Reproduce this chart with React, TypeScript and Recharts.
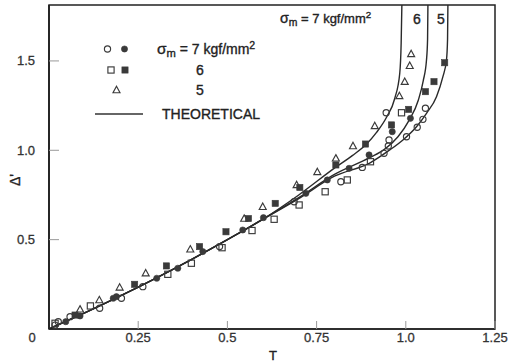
import React from 'react';
import { ComposedChart, XAxis, YAxis, Line, Scatter, ReferenceArea } from 'recharts';

// ---- axis ticks ----
const xTicks = [0.25, 0.5, 0.75, 1.0, 1.25];
const xTickLabels = ['0.25', '0.5', '0.75', '1.0', '1.25'];
const yTicks = [0, 0.5, 1.0, 1.5];
const yTickLabels = ['0', '0.5', '1.0', '1.5'];
const X_MAX = 1.25;
const Y_MAX = 1.813;

// ---- theoretical curves [T, Δ'] ----
const curve7: [number, number][] = [
  [0, 0], [0.05, 0.045], [0.1, 0.09], [0.2, 0.185], [0.3, 0.285], [0.4, 0.39], [0.5, 0.5], [0.6, 0.615],
  [0.7, 0.75], [0.8, 0.9], [0.85, 0.97], [0.89, 1.035], [0.918, 1.1], [0.946, 1.185], [0.969, 1.29],
  [0.983, 1.43], [0.987, 1.6], [0.989, 1.813],
];
const curve6: [number, number][] = [
  [0, 0], [0.05, 0.045], [0.1, 0.09], [0.2, 0.185], [0.3, 0.285], [0.4, 0.39], [0.5, 0.5], [0.6, 0.615],
  [0.7, 0.735], [0.8, 0.865], [0.9, 0.96], [0.94, 1.005], [0.978, 1.076], [1.01, 1.17], [1.035, 1.28],
  [1.049, 1.39], [1.058, 1.505], [1.061, 1.62], [1.062, 1.813],
];
const curve5: [number, number][] = [
  [0, 0], [0.05, 0.045], [0.1, 0.09], [0.2, 0.185], [0.3, 0.285], [0.4, 0.39], [0.5, 0.5], [0.6, 0.615],
  [0.7, 0.73], [0.8, 0.855], [0.9, 0.93], [0.955, 1.002], [0.992, 1.058], [1.03, 1.132], [1.058, 1.207],
  [1.086, 1.3], [1.104, 1.412], [1.114, 1.505], [1.117, 1.62], [1.118, 1.813],
];

// ---- experimental points [T, Δ'] ----
const openCircles7: [number, number][] = [
  [0.945, 1.21], [1.055, 1.235], [1.048, 1.173], [1.032, 1.129], [1.002, 1.076], [0.953, 1.058],
  [0.951, 1.024], [0.939, 0.983], [0.878, 0.904], [0.818, 0.824], [0.687, 0.712], [0.478, 0.461],
  [0.263, 0.237], [0.203, 0.172], [0.142, 0.116], [0.059, 0.069], [0.026, 0.041], [0.017, 0.022],
];
const filledCircles7: [number, number][] = [
  [1.013, 1.179], [0.962, 1.104], [0.897, 0.974], [0.841, 0.899], [0.78, 0.834], [0.72, 0.759],
  [0.601, 0.623], [0.543, 0.554], [0.431, 0.433], [0.361, 0.34], [0.302, 0.284], [0.18, 0.172],
  [0.189, 0.181], [0.087, 0.073], [0.047, 0.041],
];
const openSquares6: [number, number][] = [
  [0.988, 1.21], [0.901, 0.936], [0.836, 0.834], [0.774, 0.768], [0.701, 0.694], [0.631, 0.614],
  [0.569, 0.551], [0.485, 0.455], [0.399, 0.368], [0.333, 0.306], [0.116, 0.129], [0.017, 0.032],
];
const filledSquares6: [number, number][] = [
  [1.109, 1.49], [1.079, 1.384], [1.055, 1.328], [1.008, 1.229], [0.96, 1.142], [0.887, 1.035],
  [0.804, 0.918], [0.703, 0.792], [0.634, 0.703], [0.559, 0.618], [0.496, 0.544], [0.422, 0.461],
  [0.329, 0.353], [0.24, 0.25], [0.073, 0.078],
];
const openTriangles5: [number, number][] = [
  [1.015, 1.539], [1.011, 1.473], [0.997, 1.384], [0.982, 1.304], [0.913, 1.136], [0.852, 1.024],
  [0.804, 0.955], [0.752, 0.879], [0.694, 0.806], [0.599, 0.684], [0.547, 0.618], [0.396, 0.446],
  [0.271, 0.312], [0.198, 0.233], [0.141, 0.162], [0.087, 0.11],
];

const toRows = (arr: [number, number][]) => arr.map(([t, d]) => ({ t, d }));

const FONT = '"Liberation Sans", Arial, Helvetica, sans-serif';
const INK = '#222';
const MARK = '#3a3a3a';
const TXT = { fontFamily: FONT, fill: INK, stroke: INK, strokeWidth: 0.35 };
const TICKTXT = { fontFamily: FONT, fill: '#333', stroke: '#333', strokeWidth: 0.3 };

const OpenCircle = (p: any) => <circle cx={p.cx} cy={p.cy} r={3.1} fill="none" stroke={MARK} strokeWidth={1.15} />;
const FilledCircle = (p: any) => <circle cx={p.cx} cy={p.cy} r={3.1} fill={MARK} stroke={MARK} strokeWidth={0.6} />;
const OpenSquare = (p: any) => <rect x={p.cx - 3.1} y={p.cy - 3.1} width={6.2} height={6.2} fill="none" stroke={MARK} strokeWidth={1.15} />;
const FilledSquare = (p: any) => <rect x={p.cx - 3.1} y={p.cy - 3.1} width={6.2} height={6.2} fill={MARK} stroke={MARK} strokeWidth={0.6} />;
const OpenTriangle = (p: any) => (
  <polygon
    points={`${p.cx},${p.cy - 3.7} ${p.cx + 3.5},${p.cy + 2.7} ${p.cx - 3.5},${p.cy + 2.7}`}
    fill="none"
    stroke={MARK}
    strokeWidth={1.15}
  />
);

const XTick = (props: any) => {
  const { x, y, payload } = props;
  const i = xTicks.indexOf(payload.value);
  return (
    <g>
      <line x1={x} x2={x} y1={y} y2={y - 8} stroke="#999" strokeWidth={1} />
      <text x={x} y={y + 12.5} textAnchor="middle" fontSize={13} {...TICKTXT}>
        {i >= 0 ? xTickLabels[i] : payload.value}
      </text>
    </g>
  );
};

const YTick = (props: any) => {
  const { x, y, payload } = props;
  const i = yTicks.indexOf(payload.value);
  const label = i >= 0 ? yTickLabels[i] : String(payload.value);
  if (payload.value === 0) {
    return (
      <text x={32} y={y + 12.5} textAnchor="middle" fontSize={13} {...TICKTXT}>
        {label}
      </text>
    );
  }
  return (
    <g>
      <line x1={x} x2={x + 10} y1={y} y2={y} stroke="#999" strokeWidth={1} />
      <text x={x - 14} y={y + 4.5} textAnchor="end" fontSize={13} {...TICKTXT}>
        {label}
      </text>
    </g>
  );
};

const SigmaLabel = ({ x, y, size }: { x: number; y: number; size: number }) => (
  <text x={x} y={y} fontSize={size} {...TXT}>
    <tspan fontSize={size * 1.1}>σ</tspan>
    <tspan fontSize={size * 0.8} dy={3}>m</tspan>
    <tspan dy={-3}> = 7 kgf/mm</tspan>
    <tspan fontSize={size * 0.75} dy={-5}>2</tspan>
  </text>
);

const Overlay = () => (
  <svg
    width={508}
    height={364}
    style={{ position: 'absolute', left: 0, top: 0, pointerEvents: 'none' }}
  >
    {/* legend */}
    <OpenCircle cx={107.5} cy={49} />
    <FilledCircle cx={124.5} cy={49} />
    <SigmaLabel x={157} y={54} size={14} />
    <OpenSquare cx={111} cy={70} />
    <FilledSquare cx={125} cy={70} />
    <text x={200} y={75} textAnchor="middle" fontSize={14} {...TXT}>6</text>
    <OpenTriangle cx={116.5} cy={90} />
    <text x={200} y={95} textAnchor="middle" fontSize={14} {...TXT}>5</text>
    <line x1={95} x2={143} y1={114} y2={114} stroke="#333" strokeWidth={1.4} />
    <text x={162} y={119} fontSize={14} {...TXT}>THEORETICAL</text>

    {/* curve labels */}
    <SigmaLabel x={280} y={23} size={13} />
    <text x={417} y={24} textAnchor="middle" fontSize={14} {...TXT}>6</text>
    <text x={441} y={24} textAnchor="middle" fontSize={14} {...TXT}>5</text>

    {/* axis titles */}
    <text x={273} y={360} textAnchor="middle" fontSize={13} {...TXT}>T</text>
    <text x={20} y={180} textAnchor="middle" fontSize={14} {...TXT} transform="rotate(-90 20 180)">
      Δ'
    </text>
  </svg>
);

export default function App() {
  return (
    <div style={{ position: 'absolute', left: 0, top: 0, width: 508, height: 364, background: '#fff' }}>
      <ComposedChart width={508} height={364} margin={{ top: 5, right: 13, bottom: 0, left: 0 }}>
        <XAxis
          type="number"
          dataKey="t"
          domain={[0, X_MAX]}
          ticks={xTicks}
          allowDataOverflow
          height={35}
          tickSize={0}
          tickMargin={0}
          tick={<XTick />}
          axisLine={{ stroke: INK, strokeWidth: 1.6 }}
          tickLine={false}
          interval={0}
        />
        <YAxis
          type="number"
          dataKey="d"
          domain={[0, Y_MAX]}
          ticks={yTicks}
          allowDataOverflow
          width={49}
          tickSize={0}
          tickMargin={0}
          tick={<YTick />}
          axisLine={{ stroke: INK, strokeWidth: 1.8 }}
          tickLine={false}
          interval={0}
        />
        <ReferenceArea
          x1={0}
          x2={X_MAX}
          y1={0}
          y2={Y_MAX}
          fill="none"
          fillOpacity={0}
          stroke={INK}
          strokeWidth={1.5}
          ifOverflow="visible"
        />
        <Line data={toRows(curve7)} dataKey="d" type="monotone" dot={false} activeDot={false} stroke="#2a2a2a" strokeWidth={1.4} isAnimationActive={false} />
        <Line data={toRows(curve6)} dataKey="d" type="monotone" dot={false} activeDot={false} stroke="#2a2a2a" strokeWidth={1.4} isAnimationActive={false} />
        <Line data={toRows(curve5)} dataKey="d" type="monotone" dot={false} activeDot={false} stroke="#2a2a2a" strokeWidth={1.4} isAnimationActive={false} />
        <Scatter data={toRows(openCircles7)} dataKey="d" shape={<OpenCircle />} isAnimationActive={false} />
        <Scatter data={toRows(filledCircles7)} dataKey="d" shape={<FilledCircle />} isAnimationActive={false} />
        <Scatter data={toRows(openSquares6)} dataKey="d" shape={<OpenSquare />} isAnimationActive={false} />
        <Scatter data={toRows(filledSquares6)} dataKey="d" shape={<FilledSquare />} isAnimationActive={false} />
        <Scatter data={toRows(openTriangles5)} dataKey="d" shape={<OpenTriangle />} isAnimationActive={false} />
      </ComposedChart>
      <Overlay />
    </div>
  );
}
